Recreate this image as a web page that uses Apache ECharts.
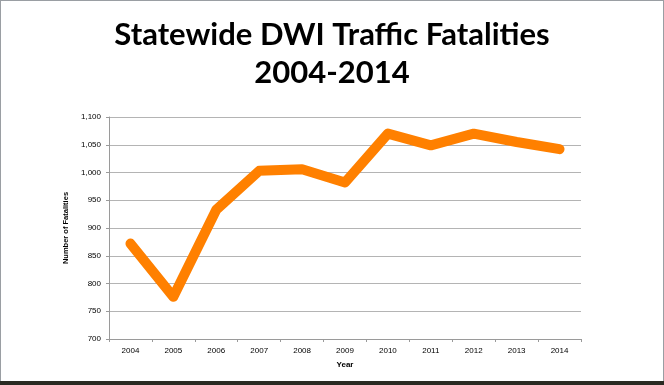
<!DOCTYPE html>
<html>
<head>
<meta charset="utf-8">
<script src="https://cdn.jsdelivr.net/npm/echarts@6/dist/echarts.min.js"></script>
<style>
html,body{margin:0;padding:0;background:#fff;}
#wrap{position:relative;width:664px;height:385px;overflow:hidden;background:#fff;}
#chart{position:absolute;left:0;top:0;width:664px;height:385px;}
#frame{position:absolute;left:0;top:0;width:662px;height:380px;border:1px solid #9a9ea3;border-bottom:none;pointer-events:none;}
#strip{position:absolute;left:0;top:381px;width:664px;height:4px;background:#2a2a22;}
</style>
</head>
<body>
<div id="wrap">
<div id="chart"></div>
<div id="frame"></div>
<div id="strip"></div>
</div>
<script>
const titleText = 'Statewide DWI Traffic Fatalities\n2004-2014';
const years = ['2004','2005','2006','2007','2008','2009','2010','2011','2012','2013','2014'];
const fatalities = [872, 776, 933, 1003, 1006, 982, 1070, 1049, 1070, 1055, 1042];
const yAxisName = 'Number of Fatalities';
const xAxisName = 'Year';

const chart = echarts.init(document.getElementById('chart'), null, {renderer:'canvas'});
const labelFont = '"Liberation Sans", Arial, sans-serif';
chart.setOption({
  animation:false,
  backgroundColor:'transparent',
  title:{
    text:titleText,
    left:'center',
    top:11,
    textStyle:{fontFamily:'Lato, "Noto Sans", sans-serif',fontWeight:'bold',fontSize:31,lineHeight:38,color:'#000'}
  },
  grid:{left:109,right:83,top:117,bottom:46,containLabel:false},
  xAxis:{
    type:'category',
    data:years,
    boundaryGap:true,
    name:xAxisName,
    nameLocation:'middle',
    nameGap:22,
    nameTextStyle:{fontFamily:labelFont,fontSize:8,fontWeight:'bold',color:'#000'},
    axisLine:{lineStyle:{color:'#9a9a9a',width:1}},
    axisTick:{show:true,length:3,lineStyle:{color:'#9a9a9a'}},
    axisLabel:{fontFamily:labelFont,fontSize:8,color:'#000',margin:8}
  },
  yAxis:{
    type:'value',
    min:700,max:1100,interval:50,
    name:yAxisName,
    nameLocation:'middle',
    nameRotate:90,
    nameGap:32,
    nameTextStyle:{fontFamily:labelFont,fontSize:7.5,fontWeight:'bold',color:'#000'},
    axisLine:{show:true,lineStyle:{color:'#9a9a9a',width:1}},
    axisTick:{show:true,length:3,lineStyle:{color:'#9a9a9a'}},
    axisLabel:{fontFamily:labelFont,fontSize:8,color:'#000',margin:8,
      formatter:function(v){return v.toLocaleString('en-US');}},
    splitLine:{lineStyle:{color:'#b4b4b4',width:1}}
  },
  series:[{
    type:'line',
    data:fatalities,
    symbol:'none',
    lineStyle:{color:'#ff8000',width:10,cap:'round',join:'round'},
    itemStyle:{color:'#ff8000'}
  }]
});
</script>
</body>
</html>
